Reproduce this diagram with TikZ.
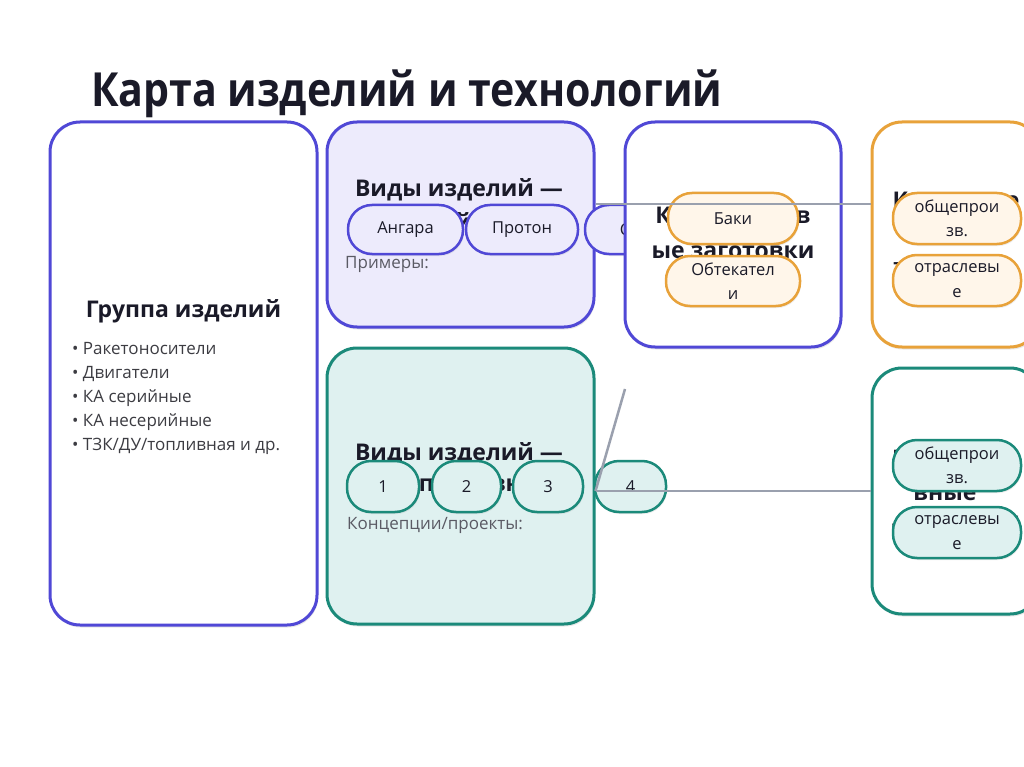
\documentclass[tikz,border=0pt]{standalone}
\usepackage{fontspec}
\setmainfont{Open Sans}
\newfontfamily\titlefont{Open Sans}[FakeStretch=0.875]
\usetikzlibrary{shadows}
\definecolor{blueB}{RGB}{80,72,214}
\definecolor{lav}{RGB}{237,235,252}
\definecolor{tealB}{RGB}{27,138,122}
\definecolor{tealF}{RGB}{223,241,240}
\definecolor{orgB}{RGB}{232,162,58}
\definecolor{orgF}{RGB}{255,246,234}
\definecolor{lineG}{RGB}{154,160,174}
\definecolor{ink}{RGB}{26,26,40}
\definecolor{txt}{RGB}{60,60,66}
\definecolor{sub}{RGB}{90,90,100}
\tikzset{
  bigbox/.style={draw, line width=3pt, rounded corners=30pt, inner sep=0pt,
    drop shadow={opacity=0.18, shadow xshift=1pt, shadow yshift=-2.5pt}},
  pill/.style={draw, line width=2.5pt, rounded corners=24pt, inner sep=0pt,
    font=\fontsize{16.5}{24.5}\selectfont, text=ink, align=center,
    drop shadow={opacity=0.15, shadow xshift=1pt, shadow yshift=-2pt}},
  btitle/.style={font=\bfseries\fontsize{23}{27}\selectfont, text=ink, inner sep=0pt},
  stitle/.style={font=\bfseries\fontsize{20}{24}\selectfont, text=ink, inner sep=0pt},
  subl/.style={font=\fontsize{17}{20}\selectfont, text=sub, inner sep=0pt, anchor=west},
  conn/.style={draw=lineG, line width=2.5pt}
}
\begin{document}
\begin{tikzpicture}[x=1pt,y=-1pt]
\useasboundingbox[fill=white] (0,0) rectangle (1024,767);
% title
\node[font=\titlefont\bfseries\fontsize{47}{54}\selectfont, text=ink, anchor=west, inner sep=0pt] (title) at (91,94) {Карта изделий и технологий};
% box A
\node[bigbox, fill=white, draw=blueB, minimum width=267pt, minimum height=503pt] (A) at (183.5,373.5) {};
\node[btitle] (Atitle) at (183.5,311) {Группа изделий};
\node[font=\fontsize{17}{24}\selectfont, text=txt, align=left, anchor=north west, inner sep=0pt] (Alist) at (72,342)
  {• Ракетоносители\\• Двигатели\\• КА серийные\\• КА несерийные\\• ТЗК/ДУ/топливная и др.};
% box B
\node[bigbox, fill=lav, draw=blueB, minimum width=267pt, minimum height=205pt] (B) at (460.5,224.5) {};
\node[btitle] (Bt1) at (459,190) {Виды изделий —};
\node[btitle] (Bt2) at (459,224) {серийные};
\node[subl] (Bsub) at (345,264) {Примеры:};
% box F
\node[bigbox, fill=tealF, draw=tealB, minimum width=267pt, minimum height=276pt] (F) at (460.5,486) {};
\node[btitle] (Ft1) at (459,454) {Виды изделий —};
\node[btitle] (Ft2) at (459,488) {перспективные};
\node[subl] (Fsub) at (347,525) {Концепции/проекты:};
% pills B
\node[pill, fill=lav, draw=blueB, minimum width=115pt, minimum height=49pt] (p1) at (405.5,229.5) {Ангара};
\node[pill, fill=lav, draw=blueB, minimum width=112pt, minimum height=49pt] (p2) at (522,229.5) {Протон};
\node[pill, fill=lav, draw=blueB, minimum width=112pt, minimum height=49pt] (p3) at (641,229.5) {Союз};
% box C
\node[bigbox, fill=white, draw=blueB, minimum width=216pt, minimum height=225pt] (C) at (733,234.5) {};
\node[btitle] (Ct1) at (733,218) {Конструктив};
\node[btitle] (Ct2) at (733,252) {ые заготовки};
\node[pill, fill=orgF, draw=orgB, minimum width=130pt, minimum height=51pt] (c1) at (733,218.5) {Баки};
\node[pill, fill=orgF, draw=orgB, minimum width=134pt, minimum height=50pt] (c2) at (733,281) {Обтекател\\и};
% box D
\node[bigbox, fill=white, draw=orgB, minimum width=168pt, minimum height=225pt] (D) at (956,234.5) {};
\node[btitle] (Dt1) at (956,200) {Ключевые};
\node[stitle] (Dt2) at (955,268) {технологии};
\node[pill, fill=orgF, draw=orgB, minimum width=128pt, minimum height=51pt] (d1) at (957,218.5) {общепрои\\зв.};
\node[pill, fill=orgF, draw=orgB, minimum width=128pt, minimum height=51pt] (d2) at (957,280.5) {отраслевы\\е};
% box E
\node[bigbox, fill=white, draw=tealB, minimum width=168pt, minimum height=246pt] (E) at (956,491) {};
\node[stitle] (Et1) at (955,460) {Производст};
\node[btitle] (Et2) at (945,494) {вные};
\node[stitle] (Et3) at (955,523) {–технологи/};
\node[pill, fill=tealF, draw=tealB, minimum width=128pt, minimum height=51pt] (e1) at (957,465.5) {общепрои\\зв.};
\node[pill, fill=tealF, draw=tealB, minimum width=128pt, minimum height=51pt] (e2) at (957,532.5) {отраслевы\\е};
% pills F
\node[pill, fill=tealF, draw=tealB, minimum width=72pt, minimum height=51pt] (f1) at (383,486.5) {1};
\node[pill, fill=tealF, draw=tealB, minimum width=69pt, minimum height=51pt] (f2) at (466.5,486.5) {2};
\node[pill, fill=tealF, draw=tealB, minimum width=70pt, minimum height=51pt] (f3) at (548,486.5) {3};
\node[pill, fill=tealF, draw=tealB, minimum width=71pt, minimum height=51pt] (f4) at (630.5,486.5) {4};
% connectors
\coordinate (ty) at (0,204);
\coordinate (ly) at (0,491);
\coordinate (lend) at (625,389);
\draw[conn] (B.east |- ty) -- (D.west |- ty);
\draw[conn] (F.east |- ly) -- (E.west |- ly);
\draw[conn] (F.east |- ly) -- (lend);
\end{tikzpicture}
\end{document}
